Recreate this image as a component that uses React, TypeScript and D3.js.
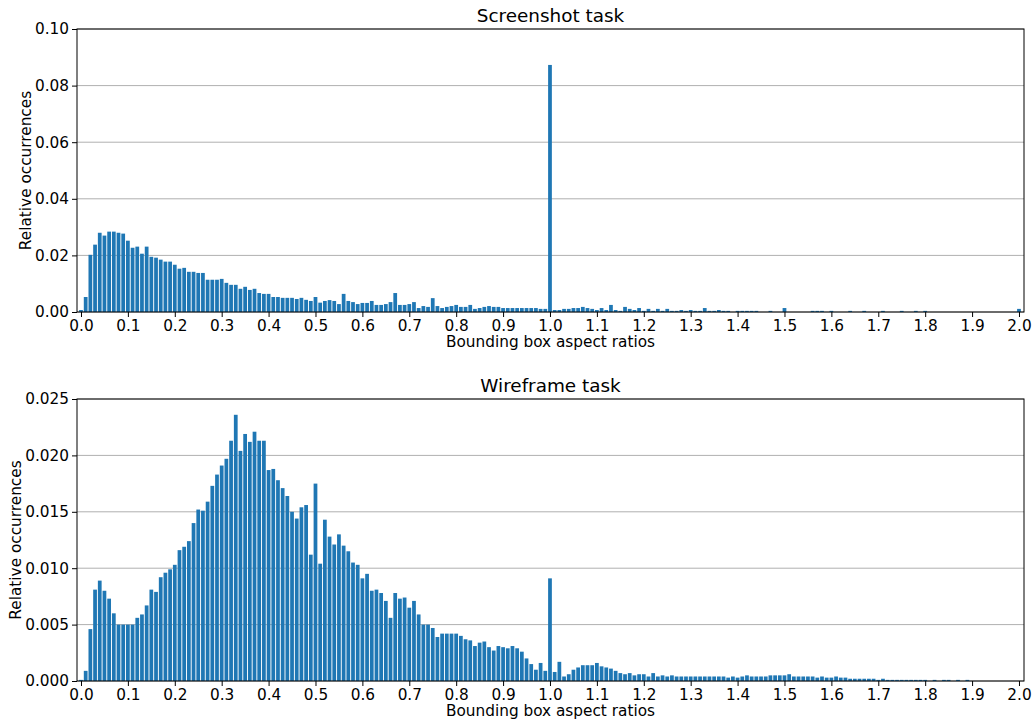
import React, { useEffect, useRef } from 'react';
import * as d3 from 'd3';

// bin centres of the aspect ratio histogram, 0.00 .. 2.00 in steps of 0.01
const ratioBins = d3.range(0, 201).map(i => i / 100);

const screenshotValues = [
  0.0007, 0.0053, 0.0202, 0.0238, 0.0280, 0.0270, 0.0284, 0.0284, 0.0280, 0.0277,
  0.0252, 0.0227, 0.0231, 0.0206, 0.0231, 0.0195, 0.0192, 0.0185, 0.0178, 0.0178,
  0.0167, 0.0153, 0.0156, 0.0142, 0.0142, 0.0138, 0.0138, 0.0114, 0.0114, 0.0114,
  0.0117, 0.0103, 0.0096, 0.0096, 0.0082, 0.0089, 0.0078, 0.0082, 0.0067, 0.0064,
  0.0064, 0.0053, 0.0053, 0.0050, 0.0050, 0.0050, 0.0046, 0.0050, 0.0043, 0.0039,
  0.0053, 0.0033, 0.0039, 0.0042, 0.0039, 0.0028, 0.0064, 0.0039, 0.0035, 0.0028,
  0.0032, 0.0032, 0.0039, 0.0025, 0.0025, 0.0028, 0.0035, 0.0067, 0.0025, 0.0025,
  0.0028, 0.0035, 0.0014, 0.0021, 0.0018, 0.0049, 0.0021, 0.0014, 0.0018, 0.0021,
  0.0025, 0.0018, 0.0018, 0.0025, 0.0011, 0.0014, 0.0018, 0.0021, 0.0018, 0.0018,
  0.0014, 0.0014, 0.0014, 0.0014, 0.0014, 0.0014, 0.0014, 0.0014, 0.0011, 0.0011,
  0.0873, 0.0007, 0.0007, 0.0011, 0.0011, 0.0014, 0.0014, 0.0018, 0.0014, 0.0011,
  0.0007, 0.0014, 0.0007, 0.0025, 0.0007, 0.0004, 0.0018, 0.0011, 0.0007, 0.0014,
  0.0004, 0.0011, 0.0004, 0.0011, 0.0004, 0.0011, 0.0004, 0.0004, 0.0007, 0.0004,
  0.0007, 0.0004, 0.0004, 0.0014, 0.0004, 0.0004, 0.0007, 0.0004, 0.0004, 0,
  0.0004, 0.0004, 0.0004, 0.0004, 0.0004, 0, 0, 0.0004, 0, 0,
  0.0014, 0, 0, 0, 0, 0, 0.0004, 0.0004, 0.0004, 0,
  0.0004, 0, 0, 0, 0.0004, 0, 0, 0.0004, 0, 0,
  0, 0.0004, 0, 0, 0, 0.0004, 0, 0, 0.0004, 0,
  0.0004, 0, 0, 0, 0, 0, 0, 0, 0, 0,
  0, 0, 0, 0, 0, 0, 0, 0, 0, 0,
  0.0011,
];

const wireframeValues = [
  0.0001, 0.0009, 0.0046, 0.0081, 0.0089, 0.0080, 0.0073, 0.0060, 0.0050, 0.0050,
  0.0050, 0.0050, 0.0056, 0.0059, 0.0067, 0.0081, 0.0079, 0.0092, 0.0096, 0.0099,
  0.0103, 0.0116, 0.0119, 0.0124, 0.0140, 0.0152, 0.0151, 0.0159, 0.0173, 0.0183,
  0.0191, 0.0197, 0.0213, 0.0236, 0.0204, 0.0219, 0.0212, 0.0221, 0.0213, 0.0213,
  0.0187, 0.0188, 0.0178, 0.0171, 0.0164, 0.0150, 0.0144, 0.0154, 0.0156, 0.0112,
  0.0175, 0.0104, 0.0143, 0.0128, 0.0121, 0.0130, 0.0120, 0.0115, 0.0105, 0.0103,
  0.0091, 0.0095, 0.0080, 0.0081, 0.0078, 0.0071, 0.0056, 0.0078, 0.0073, 0.0074,
  0.0065, 0.0071, 0.0059, 0.0050, 0.0050, 0.0047, 0.0039, 0.0042, 0.0042, 0.0042,
  0.0042, 0.0040, 0.0037, 0.0036, 0.0031, 0.0034, 0.0035, 0.0030, 0.0027, 0.0031,
  0.0030, 0.0029, 0.0031, 0.0029, 0.0026, 0.0020, 0.0015, 0.0010, 0.0016, 0.0009,
  0.0091, 0.0008, 0.0017, 0.0004, 0.0006, 0.0010, 0.0012, 0.0014, 0.0014, 0.0014,
  0.0016, 0.0013, 0.0012, 0.0011, 0.0009, 0.0007, 0.0006, 0.0007, 0.0005, 0.0006,
  0.0006, 0.0004, 0.0007, 0.0004, 0.0005, 0.0004, 0.0005, 0.0004, 0.0004, 0.0004,
  0.0004, 0.0004, 0.0004, 0.0004, 0.0004, 0.0004, 0.0004, 0.0004, 0.0003, 0.0004,
  0.0003, 0.0004, 0.0005, 0.0004, 0.0004, 0.0004, 0.0004, 0.0005, 0.0005, 0.0005,
  0.0005, 0.0006, 0.0004, 0.0004, 0.0004, 0.0004, 0.0004, 0.0003, 0.0004, 0.0003,
  0.0003, 0.0004, 0.0003, 0.0003, 0.0002, 0.0002, 0.0002, 0.0002, 0.0002, 0.0002,
  0.0001, 0.0002, 0.0001, 0.0001, 0.0001, 0.0001, 0.0001, 0.0001, 0.0001, 0.0001,
  0.0001, 0, 0.0001, 0, 0.0001, 0.0001, 0, 0.0001, 0, 0.0001,
  0, 0, 0, 0, 0, 0, 0, 0, 0, 0,
  0,
];

const xTicks = d3.range(0, 21).map(i => i / 10);
const screenshotYTicks = [0, 0.02, 0.04, 0.06, 0.08, 0.1];
const wireframeYTicks = [0, 0.005, 0.01, 0.015, 0.02, 0.025];

const panels = [
  { title: 'Screenshot task', values: screenshotValues, yTicks: screenshotYTicks, fmt: '.2f', top: 29, bottom: 312, labelX: 26 },
  { title: 'Wireframe task', values: wireframeValues, yTicks: wireframeYTicks, fmt: '.3f', top: 399, bottom: 681, labelX: 16 },
];

const W = 1034;
const H = 722;
const left = 77;
const right = 1024;
const barColor = '#1f77b4';
const font = '"DejaVu Sans", sans-serif';
const tickSize = 15.3;
const titleSize = 18.4;

const App = () => {
  const svgRef = useRef<SVGSVGElement>(null);

  useEffect(() => {
    svgRef.current.innerHTML = '';
    const svg = d3.select(svgRef.current)
      .attr('width', W)
      .attr('height', H)
      .style('font-family', font);

    const x = d3.scaleLinear().domain([-0.0085, 2.0107]).range([left, right]);
    const barW = x(0.008) - x(0);

    panels.forEach(p => {
      const y = d3.scaleLinear()
        .domain([0, p.yTicks[p.yTicks.length - 1]])
        .range([p.bottom, p.top]);

      const g = svg.append('g');

      // grid
      g.selectAll('line.grid')
        .data(p.yTicks)
        .enter().append('line')
        .attr('x1', left).attr('x2', right)
        .attr('y1', d => y(d)).attr('y2', d => y(d))
        .attr('stroke', '#b0b0b0')
        .attr('stroke-width', 1);

      // bars
      g.selectAll('rect.bar')
        .data(p.values)
        .enter().append('rect')
        .attr('x', (d, i) => x(ratioBins[i]) - barW / 2)
        .attr('y', d => y(d))
        .attr('width', barW)
        .attr('height', d => p.bottom - y(d))
        .attr('fill', barColor);

      // frame
      g.append('rect')
        .attr('x', left).attr('y', p.top)
        .attr('width', right - left).attr('height', p.bottom - p.top)
        .attr('fill', 'none')
        .attr('stroke', '#000')
        .attr('stroke-width', 1);

      const xAxis = g.append('g')
        .attr('transform', `translate(0,${p.bottom})`)
        .call(d3.axisBottom(x).tickValues(xTicks).tickFormat(d3.format('.1f')).tickSize(5).tickPadding(3));
      xAxis.select('.domain').remove();
      xAxis.selectAll('text').attr('font-size', tickSize).attr('fill', '#000').style('font-family', font);

      const yAxis = g.append('g')
        .attr('transform', `translate(${left},0)`)
        .call(d3.axisLeft(y).tickValues(p.yTicks).tickFormat(d3.format(p.fmt)).tickSize(5).tickPadding(3));
      yAxis.select('.domain').remove();
      yAxis.selectAll('text').attr('font-size', tickSize).attr('fill', '#000').style('font-family', font);

      g.append('text')
        .attr('x', (left + right) / 2)
        .attr('y', p.top - 7)
        .attr('text-anchor', 'middle')
        .attr('font-size', titleSize)
        .text(p.title);

      g.append('text')
        .attr('x', (left + right) / 2)
        .attr('y', p.bottom + 35)
        .attr('text-anchor', 'middle')
        .attr('font-size', tickSize)
        .text('Bounding box aspect ratios');

      g.append('text')
        .attr('transform', `translate(${p.labelX},${(p.top + p.bottom) / 2}) rotate(-90)`)
        .attr('text-anchor', 'middle')
        .attr('dominant-baseline', 'central')
        .attr('font-size', tickSize)
        .text('Relative occurrences');
    });
  }, []);

  return (
    <svg ref={svgRef} style={{ position: 'absolute', left: 0, top: 0 }}></svg>
  );
};

export default App;
